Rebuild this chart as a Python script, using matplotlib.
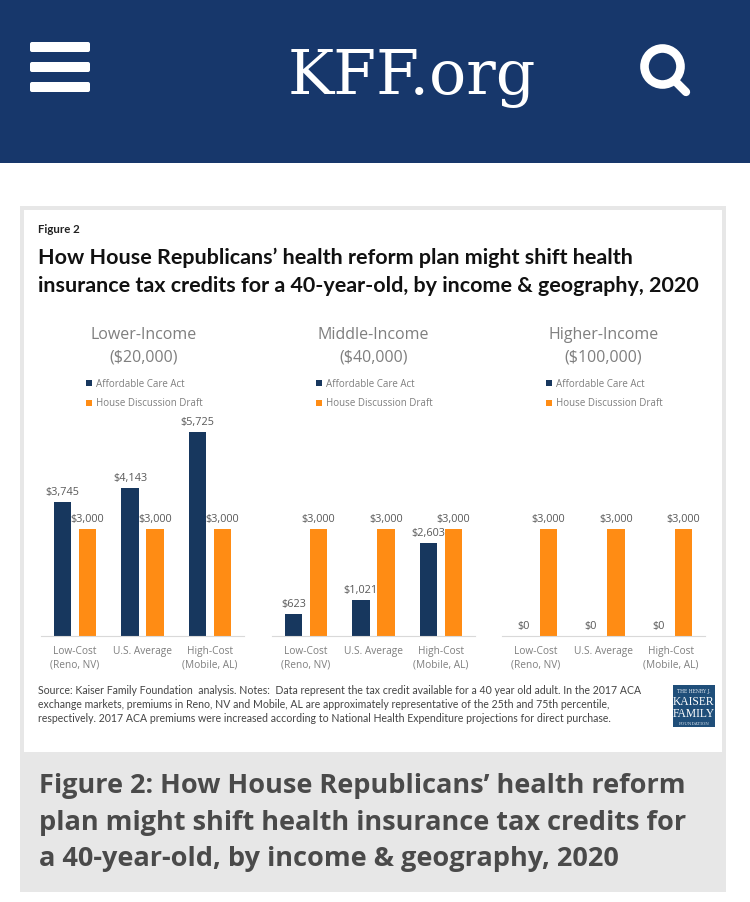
import matplotlib
matplotlib.use("Agg")
import matplotlib.pyplot as plt
from matplotlib.patches import Rectangle, FancyBboxPatch, Circle

W = 750
H = 903

# values
panels = ["Lower-Income\n($20,000)", "Middle-Income\n($40,000)", "Higher-Income\n($100,000)"]
categories = ["Low-Cost\n(Reno, NV)", "U.S. Average", "High-Cost\n(Mobile, AL)"]
aca = [[3745, 4143, 5725], [623, 1021, 2603], [0, 0, 0]]
house = [[3000, 3000, 3000], [3000, 3000, 3000], [3000, 3000, 3000]]
series_names = ["Affordable Care Act", "House Discussion Draft"]

title_lines = ["How House Republicans\u2019 health reform plan might shift health",
               "insurance tax credits for a 40-year-old, by income & geography, 2020"]
source_lines = ["Source: Kaiser Family Foundation  analysis. Notes:  Data represent the tax credit available for a 40 year old adult. In the 2017 ACA",
                "exchange markets, premiums in Reno, NV and Mobile, AL are approximately representative of the 25th and 75th percentile,",
                "respectively. 2017 ACA premiums were increased according to National Health Expenditure projections for direct purchase."]
caption_lines = ["Figure 2: How House Republicans\u2019 health reform",
                 "plan might shift health insurance tax credits for",
                 "a 40-year-old, by income & geography, 2020"]

NAVY = "#17375e"
ORANGE = "#ff8c14"
HEADER = "#17376b"
GREY = "#7f7f7f"

fig = plt.figure(figsize=(W / 100, H / 100), dpi=100, facecolor="white")

# page layer, in pixel coordinates
bg = fig.add_axes([0, 0, 1, 1], zorder=0)
bg.set_xlim(0, W)
bg.set_ylim(H - 1, -1)
bg.axis("off")

bg.add_patch(Rectangle((0, -1), W, 164, fc=HEADER, ec="none"))
for y in [42, 62, 82]:
    bg.add_patch(FancyBboxPatch((32, y + 2), 56, 6, boxstyle="round,pad=2", fc="white", ec="none"))
bg.text(412, 93, "KFF.org", family="DejaVu Serif", fontsize=44.6, color="white", ha="center", va="baseline")
bg.add_patch(Circle((662.5, 66.5), 18, fc="none", ec="white", lw=6.2))
bg.plot([676, 686], [82, 92], color="white", lw=6, solid_capstyle="round")

# figure card
bg.add_patch(Rectangle((20, 206), 706, 686, fc="#e7e7e7", ec="none"))
bg.add_patch(Rectangle((24, 210), 698, 542, fc="white", ec="none"))

bg.text(38, 228.5, "Figure 2", family="Lato", weight="bold", fontsize=8.3, color="#222222", va="center")
bg.text(38, 256.5, title_lines[0], family="Lato", weight="bold", fontsize=15.48, color="#111111", va="center")
bg.text(38, 284.5, title_lines[1], family="Lato", weight="bold", fontsize=15.48, color="#111111", va="center")

for i, line in enumerate(source_lines):
    bg.text(38, 689 + i * 14.5, line, family="Lato", fontsize=7.6, color="#444444", va="center")

# logo
bg.add_patch(Rectangle((673, 685), 42, 42, fc="#1f4e79", ec="none"))
bg.text(694, 690, "THE HENRY J.", family="DejaVu Serif", fontsize=3.3, color="#dde6ef", ha="center", va="center")
bg.text(694, 701, "KAISER", family="Liberation Serif", fontsize=8.4, color="white", ha="center", va="center")
bg.text(694, 713, "FAMILY", family="Liberation Serif", fontsize=8.4, color="white", ha="center", va="center")
bg.text(694, 723, "FOUNDATION", family="DejaVu Serif", fontsize=3, color="#dde6ef", ha="center", va="center")

for i, line in enumerate(caption_lines):
    bg.text(39, 785.5 + i * 36.5, line, family="Open Sans", weight="bold", fontsize=19.5, color="#4a4a4a", va="center")

# chart panels
lefts = [41, 272, 502]
leg_x = [86, 316, 546]
ax_w = 203
base = 637
top = 423

for p in range(3):
    ax = fig.add_axes([lefts[p] / W, 1 - base / H, ax_w / W, (base - top) / H], zorder=1)
    ax.patch.set_alpha(0)
    xs = list(range(3))
    b1 = ax.bar([x - 0.185 for x in xs], aca[p], 0.26, color=NAVY)
    b2 = ax.bar([x + 0.185 for x in xs], house[p], 0.26, color=ORANGE)
    for bars, vals in [(b1, aca[p]), (b2, house[p])]:
        for b, v in zip(bars, vals):
            ax.annotate("${:,}".format(v), (b.get_x() + b.get_width() / 2, v), xytext=(0, 5),
                        textcoords="offset pixels", ha="center", va="bottom",
                        family="Open Sans", fontsize=7.8, color="#595959")
    ax.set_xlim(-0.5, 2.5)
    ax.set_ylim(0, 6000)
    ax.set_yticks([])
    ax.set_xticks(xs)
    ax.set_xticklabels(categories, family="Open Sans", fontsize=7.3, color=GREY, linespacing=1.35)
    ax.tick_params(axis="x", length=0, pad=6.5)
    for s in ["top", "left", "right"]:
        ax.spines[s].set_visible(False)
    ax.spines["bottom"].set_color("#d9d9d9")
    ax.spines["bottom"].set_linewidth(0.8)

    cx = lefts[p] + ax_w / 2 + (1 if p == 0 else 0)
    bg.text(cx, 345, panels[p], family="Open Sans", fontsize=11.5, color=GREY, ha="center",
            va="center", linespacing=1.5)
    for k, col in enumerate([NAVY, ORANGE]):
        yy = 383 + k * 19.5
        bg.add_patch(Rectangle((leg_x[p], yy - 3), 6, 6, fc=col, ec="none"))
        bg.text(leg_x[p] + 10, yy, series_names[k], family="Open Sans", fontsize=7.05, color=GREY, va="center")

fig.savefig("out.png", dpi=100)
